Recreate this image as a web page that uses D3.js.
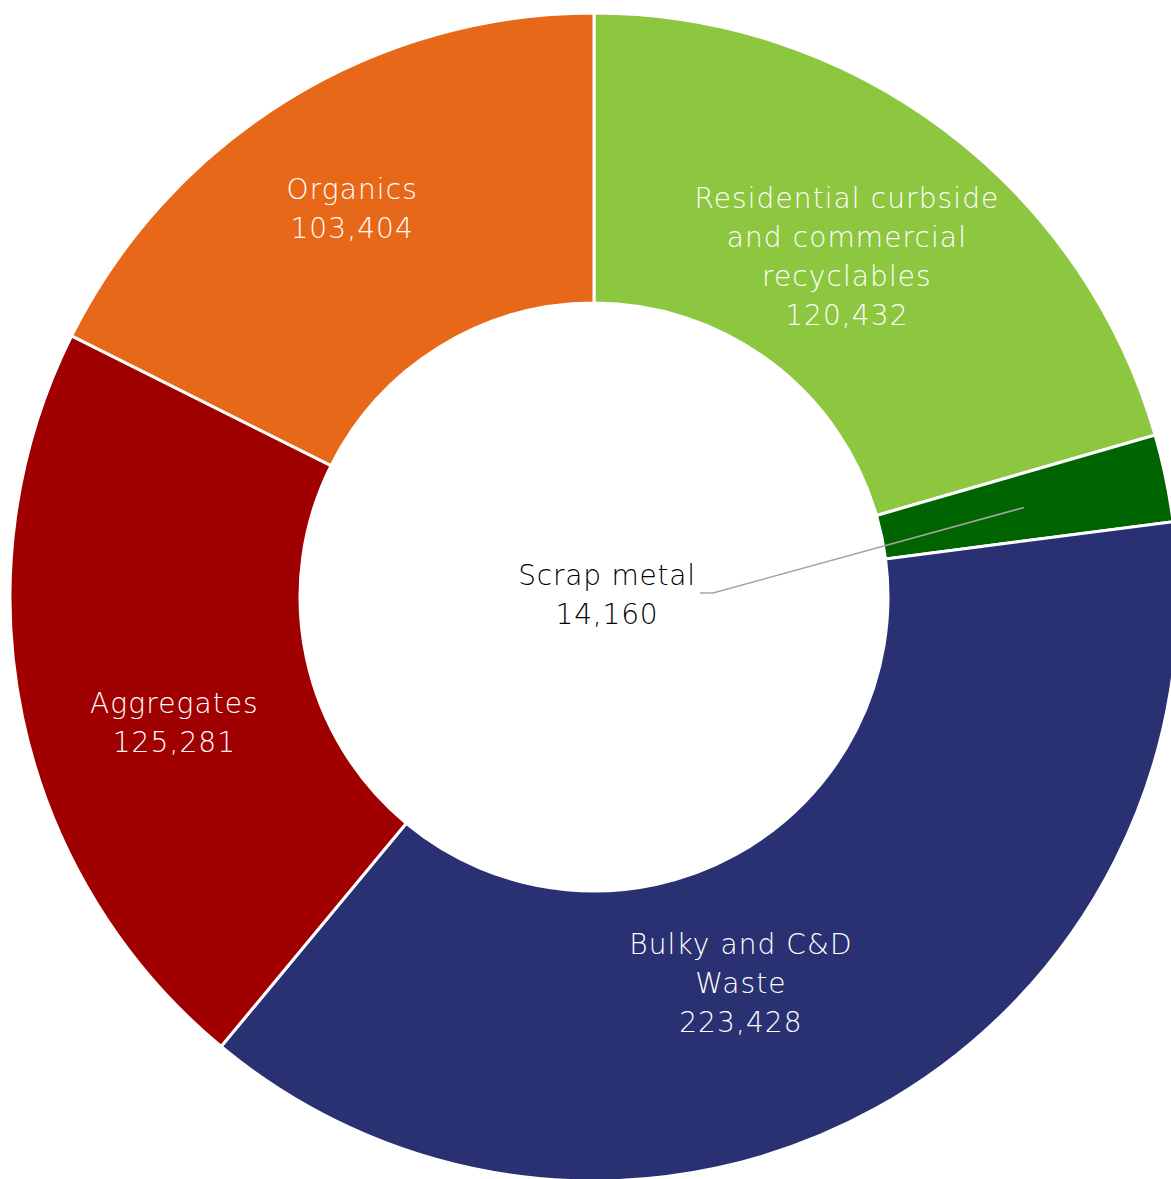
<!DOCTYPE html>
<html>
<head>
<meta charset="utf-8">
<script src="https://cdn.jsdelivr.net/npm/d3@7"></script>
<style>
html,body{margin:0;padding:0;background:#fff;overflow:hidden;}
svg{display:block;}
text{font-family:"Century Gothic","DejaVu Sans",sans-serif;font-weight:300;letter-spacing:1.1px;}
</style>
</head>
<body>
<svg id="chart" width="1171" height="1179"></svg>
<script>
// ---- data ----
const categories = ["Residential curbside and commercial recyclables", "Scrap metal", "Bulky and C&D Waste", "Aggregates", "Organics"];
const values = [120432, 14160, 223428, 125281, 103404];
const labelLines = [
  ["Residential curbside", "and commercial", "recyclables"],
  ["Scrap metal"],
  ["Bulky and C&D", "Waste"],
  ["Aggregates"],
  ["Organics"]
];
const colors = ["#8DC63F", "#006400", "#2A3172", "#A00000", "#E8681A"];

// ---- layout ----
const W = 1171, H = 1179;
const cx = 594, cy = 597;
const outerR = 584, innerR = 294, labelR = 439;
const lineH = 39, fontSize = 28;
// label nudges (px) relative to arc centroid
const labelNudge = [[-11, 11], null, [-65, 2], [10, 35], [-11, -15]];
// inner label for scrap metal
const scrapLabelPos = [607, 595];

const svg = d3.select("#chart");
const g = svg.append("g").attr("transform", `translate(${cx},${cy})`);

const data = categories.map((c, i) => ({name: c, value: values[i], i}));
const pie = d3.pie().value(d => d.value).sort(null);
const arcs = pie(data);
const arc = d3.arc().innerRadius(innerR).outerRadius(outerR);
const labelArc = d3.arc().innerRadius(labelR).outerRadius(labelR);

g.selectAll("path.slice").data(arcs).enter().append("path")
  .attr("class", "slice")
  .attr("d", arc)
  .attr("fill", d => colors[d.data.i])
  .attr("stroke", "#fff")
  .attr("stroke-width", 3)
  .attr("stroke-linejoin", "miter");

const fmt = d3.format(",");

arcs.forEach(a => {
  const i = a.data.i;
  const lines = labelLines[i].concat([fmt(a.data.value)]);
  let x, y, fill, ls = null;
  if (labelNudge[i] === null) {
    x = scrapLabelPos[0] - cx; y = scrapLabelPos[1] - cy;
    fill = "#000";
    ls = "0.8px";
    const [px, py] = labelArc.centroid(a);
    const ly = y - 2;
    g.append("polyline")
      .attr("points", `${x + 93},${ly} ${x + 106},${ly} ${px},${py}`)
      .attr("fill", "none")
      .attr("stroke", "#A6A6A6")
      .attr("stroke-width", 1.5);
  } else {
    const [px, py] = labelArc.centroid(a);
    x = px + labelNudge[i][0]; y = py + labelNudge[i][1];
    fill = "#fff";
  }
  const t = g.append("text")
    .attr("text-anchor", "middle")
    .attr("fill", fill)
    .attr("font-size", fontSize);
  if (ls) t.style("letter-spacing", ls);
  const n = lines.length;
  lines.forEach((ln, k) => {
    t.append("tspan")
      .attr("x", x)
      .attr("y", y + (k - (n - 1) / 2) * lineH)
      .attr("dy", "0.35em")
      .text(ln);
  });
});
</script>
</body>
</html>
